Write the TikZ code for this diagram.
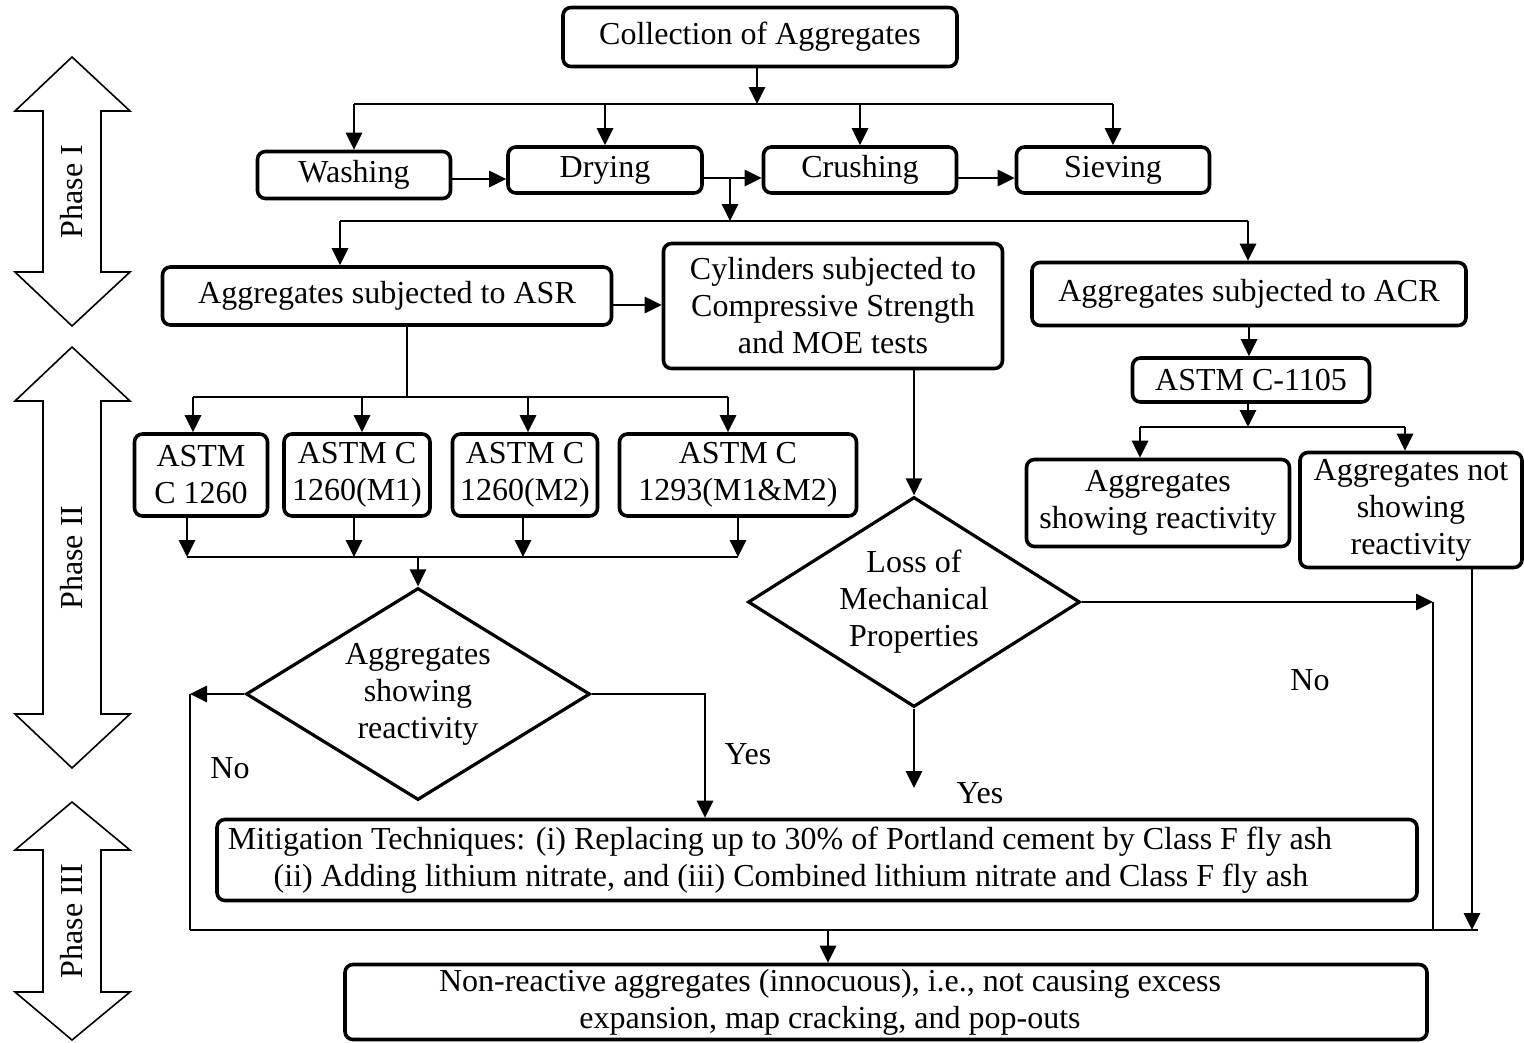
\documentclass[tikz,border=0pt]{standalone}
\usepackage{fontspec}
\setmainfont{Liberation Serif}
\usetikzlibrary{shapes.geometric,arrows.meta,calc}
\tikzstyle{procbox} = [draw=black, fill=white, line width=3.6pt, rectangle, rounded corners=8pt, inner sep=2pt, align=center]
\tikzstyle{decision} = [draw=black, fill=white, line width=3.2pt, diamond, inner sep=0pt, align=center]
\tikzstyle{link} = [line width=2.8pt, -{Triangle[length=17pt,width=16pt]}]
\tikzstyle{busline} = [line width=2.8pt]
\tikzstyle{phasearrow} = [draw=black, line width=1.6pt, fill=white]
\tikzstyle{answer} = [inner sep=0pt]

\begin{document}
\begin{tikzpicture}[x=1pt, y=-1pt, font=\fontsize{32pt}{37pt}\selectfont]
\useasboundingbox (0,0) rectangle (1524,1042);

% phase arrows on the left
\foreach \ptop/\pbot/\phead/\pname in {57/326/54/I, 347/768/54/II, 802/1040/48/III}{
  \draw[phasearrow] (72,\ptop) -- (130,{\ptop+\phead}) -- (101,{\ptop+\phead}) -- (101,{\pbot-\phead})
    -- (130,{\pbot-\phead}) -- (72,\pbot) -- (15,{\pbot-\phead}) -- (43,{\pbot-\phead})
    -- (43,{\ptop+\phead}) -- (15,{\ptop+\phead}) -- cycle;
  \node[rotate=90] (phase\pname) at (72,{(\ptop+\pbot)/2}) {Phase \pname};
}

% Phase I
\node[procbox, minimum width=394pt, minimum height=59pt] (collect) at (760,37) {Collection of Aggregates};
\node[procbox, minimum width=193pt, minimum height=47pt] (wash) at (354,175) {Washing};
\node[procbox, minimum width=194pt, minimum height=46pt] (dry) at (605,170) {Drying};
\node[procbox, minimum width=193pt, minimum height=46pt] (crush) at (860,170) {Crushing};
\node[procbox, minimum width=193pt, minimum height=46pt] (sieve) at (1113,170) {Sieving};

% Phase II
\node[procbox, minimum width=449pt, minimum height=58pt] (ASR) at (387,296) {Aggregates subjected to ASR};
\node[procbox, minimum width=339pt, minimum height=125pt] (cyl) at (833,306) {Cylinders subjected to\\Compressive Strength\\and MOE tests};
\node[procbox, minimum width=434pt, minimum height=63pt] (ACR) at (1249,294) {Aggregates subjected to ACR};
\node[procbox, minimum width=237pt, minimum height=44pt] (c1105) at (1251,380) {ASTM C-1105};
\node[procbox, minimum width=133pt, minimum height=82pt] (astmA) at (201,475) {ASTM\\C 1260};
\node[procbox, minimum width=146pt, minimum height=82pt] (astmB) at (357,475) {ASTM C\\1260(M1)};
\node[procbox, minimum width=145pt, minimum height=82pt] (astmC) at (525,475) {ASTM C\\1260(M2)};
\node[procbox, minimum width=237pt, minimum height=82pt] (astmD) at (738,475) {ASTM C\\1293(M1\&M2)};
\node[procbox, minimum width=263pt, minimum height=87pt] (showA) at (1158,503) {Aggregates\\showing reactivity};
\node[procbox, minimum width=222pt, minimum height=115pt] (showB) at (1411,510) {Aggregates not\\showing\\reactivity};
\node[decision, minimum width=344pt, minimum height=212pt, aspect=1.62] (reactA) at (418,694) {Aggregates\\showing\\reactivity};
\node[decision, minimum width=332pt, minimum height=210pt, aspect=1.58] (loss) at (914,602) {Loss of\\Mechanical\\Properties};

% Phase III
\node[procbox, minimum width=1200pt, minimum height=81pt] (mitig) at (817,860) {Mitigation Techniques: (i) Replacing up to 30\% of Portland cement by Class F fly ash\hspace*{74pt}\\(ii) Adding lithium nitrate, and (iii) Combined lithium nitrate and Class F fly ash\hspace*{52pt}};
\node[procbox, minimum width=1082pt, minimum height=75pt] (final) at (886,1002) {Non-reactive aggregates (innocuous), i.e., not causing excess\hspace*{112pt}\\expansion, map cracking, and pop-outs\hspace*{112pt}};

% bus points
\coordinate (busA) at (757,104);
\coordinate (split) at (730,178);
\coordinate (busB) at (730,221);
\coordinate (busBl) at (340,221);
\coordinate (busBr) at (1248,221);
\coordinate (busC) at (407,397);
\coordinate (busD) at (418,557);
\coordinate (busE) at (1248,427);
\coordinate (lossyes) at (914,788);
\coordinate (leftrail) at (190,930);
\coordinate (midrail) at (1433,930);
\coordinate (rightrail) at (1478,930);
\coordinate (busF) at (828,930);

% preparation
\draw[link] (collect.south -| busA) -- (busA);
\draw[busline] (wash.north |- busA) -- (sieve.north |- busA);
\foreach \b in {wash, dry, crush, sieve}
  \draw[link] (\b.north |- busA) -- (\b.north);
\draw[link] ([yshift=-4pt]wash.east) -- ([yshift=-4pt]wash.east -| dry.west);
\draw[link] ([yshift=-8pt]dry.east) -- ([yshift=-8pt]crush.west);
\draw[link] ([yshift=-8pt]crush.east) -- ([yshift=-8pt]sieve.west);
\draw[link] (split) -- (busB);
\draw[busline] (busBl) -- (busBr);
\draw[link] (busBl) -- (busBl |- ASR.north);
\draw[link] (busBr) -- (busBr |- ACR.north);

% ASR branch
\draw[link] ([yshift=-9pt]ASR.east) -- ([yshift=-9pt]ASR.east -| cyl.west);
\draw[busline] (ASR.south -| busC) -- (busC);
\draw[busline] ([xshift=-8pt]astmA.north |- busC) -- ([xshift=-10pt]astmD.north |- busC);
\foreach \b/\dx in {astmA/-8, astmB/5, astmC/3, astmD/-10}
  \draw[link] ([xshift=\dx pt]\b.north |- busC) -- ([xshift=\dx pt]\b.north);
\foreach \b/\dx in {astmA/-14, astmB/-3, astmC/-2, astmD/0}
  \draw[link] ([xshift=\dx pt]\b.south) -- ([xshift=\dx pt]\b.south |- busD);
\draw[busline] ([xshift=-14pt]astmA.south |- busD) -- (astmD.south |- busD);
\draw[link] (busD) -- (reactA.north);
\draw[link] (cyl.south -| loss.north) -- (loss.north);

% ACR branch
\draw[link] (ACR.south) -- (ACR.south |- c1105.north);
\draw[link] (c1105.south -| busE) -- (busE);
\draw[busline] ([xshift=-18pt]showA.north |- busE) -- ([xshift=-6pt]showB.north |- busE);
\draw[link] ([xshift=-18pt]showA.north |- busE) -- ([xshift=-18pt]showA.north);
\draw[link] ([xshift=-6pt]showB.north |- busE) -- ([xshift=-6pt]showB.north);

% decisions and bottom rail
\draw[busline] (leftrail) -- (rightrail);
\draw[link] (reactA.west) -- (reactA.west -| leftrail);
\draw[busline] (reactA.west -| leftrail) -- (leftrail);
\draw[link] (reactA.east) -| ([xshift=-112pt]mitig.north);
\draw[link] (loss.south) -- (lossyes);
\draw[link] (loss.east) -- (loss.east -| midrail);
\draw[busline] (loss.east -| midrail) -- (midrail);
\draw[link] ([xshift=61pt]showB.south) -- ([xshift=61pt]showB.south |- rightrail);
\draw[link] (busF) -- (busF |- final.north);

\node[answer] (noA) at (230,768) {No};
\node[answer] (yesA) at (748,754) {Yes};
\node[answer] (yesB) at (980,793) {Yes};
\node[answer] (noB) at (1310,680) {No};
\end{tikzpicture}
\end{document}
